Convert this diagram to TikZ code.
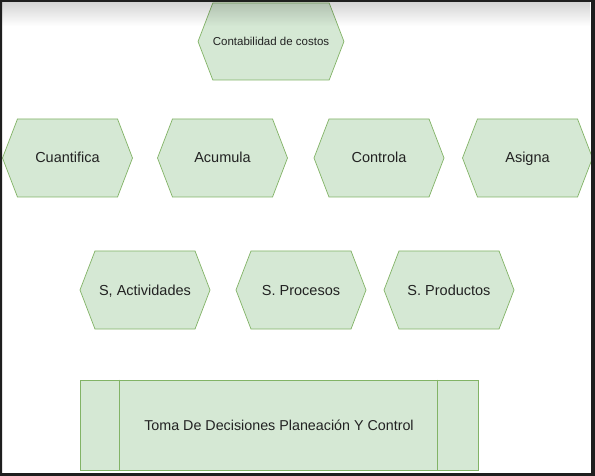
\documentclass[tikz,border=0pt]{standalone}
\usepackage{fontspec}
\setmainfont{Liberation Sans}
\usepackage{xcolor}
\usepackage{tikz}
\usetikzlibrary{shapes.symbols,fadings}
\definecolor{hexfill}{HTML}{D5E8D4}
\definecolor{hexline}{HTML}{82B366}
\definecolor{ink}{HTML}{222222}
\definecolor{frame}{HTML}{1E1E1E}
\tikzset{
  hexa/.style={signal, signal to=west and east, signal pointer angle=138,
    draw=hexline, fill=hexfill, line width=0.7pt, inner sep=0pt,
    minimum width=130pt, minimum height=78pt, text=ink,
    text height=10pt, text depth=0pt,
    font=\fontsize{14.5}{17}\selectfont},
  procbox/.style={rectangle, draw=hexline, fill=hexfill, line width=0.7pt,
    minimum width=398pt, minimum height=90pt, text=ink,
    font=\fontsize{14.3}{17}\selectfont},
  band/.style={draw=hexline, line width=0.7pt},
}

\begin{document}
\begin{tikzpicture}[x=1pt,y=-1pt]
  \useasboundingbox[fill=white] (0,0) rectangle (595,476);
  \node[hexa, minimum height=77pt, text height=8pt,
    font=\fontsize{11.5}{14}\selectfont] (costos) at (271,41.5) {Contabilidad de costos};
  \node[hexa] (cuant) at (67.5,158) {Cuantifica};
  \node[hexa] (acum) at (222.5,158) {Acumula};
  \node[hexa] (ctrl) at (379,158) {Controla};
  \node[hexa] (asig) at (527.5,158) {Asigna};
  \node[hexa] (sact) at (145,290) {S, Actividades};
  \node[hexa] (sproc) at (301,290) {S. Procesos};
  \node[hexa] (sprod) at (449,290) {S. Productos};
  \node[procbox] (toma) at (279,425) {Toma De Decisiones Planeación Y Control};
  \draw[band] ([xshift=40pt]toma.north west) -- ([xshift=40pt]toma.south west);
  \draw[band] ([xshift=-41pt]toma.north east) -- ([xshift=-41pt]toma.south east);
  \fill[black, opacity=0.17, path fading=south] (2,2) rectangle (591,26);
  \fill[frame, even odd rule] (0,0) rectangle (595,476) (2,2) rectangle (591,473);
\end{tikzpicture}
\end{document}
